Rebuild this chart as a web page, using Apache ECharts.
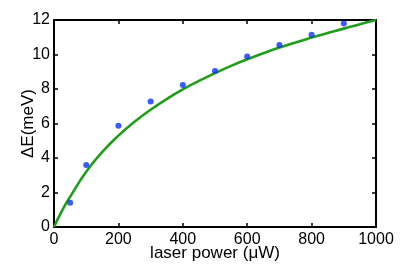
<!DOCTYPE html>
<html>
<head>
<meta charset="utf-8">
<script src="https://cdn.jsdelivr.net/npm/echarts@6/dist/echarts.min.js"></script>
<style>
html,body{margin:0;padding:0;background:#fff;}
#c{width:415px;height:265px;}
</style>
</head>
<body>
<div id="c"></div>
<script>
// measured data points
var powerX = [50, 100, 200, 300, 400, 500, 600, 700, 800, 900];
var deltaE = [1.40, 3.60, 5.87, 7.28, 8.23, 9.05, 9.88, 10.55, 11.14, 11.80];
// fit curve
var fitX = [0, 25, 50, 100, 150, 200, 250, 300, 350, 400, 450, 500, 550, 600, 650, 700, 750, 800, 850, 900, 950, 1000];
var fitY = [0, 0.95, 1.75, 3.2, 4.35, 5.3, 6.1, 6.8, 7.42, 7.98, 8.47, 8.92, 9.34, 9.72, 10.07, 10.4, 10.7, 10.98, 11.25, 11.5, 11.76, 12.0];
var xTicks = [0, 200, 400, 600, 800, 1000];
var yTicks = [0, 2, 4, 6, 8, 10, 12];

var pts = powerX.map(function (x, i) { return [x, deltaE[i]]; });
var fit = fitX.map(function (x, i) { return [x, fitY[i]]; });

var font = 'Liberation Sans, Arial, Helvetica, sans-serif';
var axisLine = { show: true, onZero: false, lineStyle: { color: '#000', width: 2 } };
var tick = { show: true, inside: true, length: 4, lineStyle: { color: '#000', width: 1.5 } };

var chart = echarts.init(document.getElementById('c'), null, { renderer: 'canvas' });
chart.setOption({
  animation: false,
  backgroundColor: '#fff',
  grid: { left: 54, right: 39, top: 20, bottom: 38, containLabel: false, outerBoundsMode: 'none' },
  xAxis: [{
    type: 'value', min: xTicks[0], max: xTicks[xTicks.length - 1], interval: 200,
    position: 'bottom',
    name: 'laser power (\u03bcW)', nameLocation: 'middle', nameGap: 18, nameMoveOverlap: false,
    nameTextStyle: { color: '#000', fontSize: 17, fontFamily: font },
    axisLine: axisLine, axisTick: tick,
    axisLabel: { color: '#000', fontSize: 16, fontFamily: font, margin: 5,
      formatter: function (v) { return String(v); } },
    splitLine: { show: false }
  }, {
    type: 'value', min: xTicks[0], max: xTicks[xTicks.length - 1], interval: 200,
    position: 'top',
    axisLine: axisLine, axisTick: tick,
    axisLabel: { show: false }, splitLine: { show: false }
  }],
  yAxis: [{
    type: 'value', min: yTicks[0], max: yTicks[yTicks.length - 1], interval: 2,
    position: 'left',
    name: '\u0394E(meV)', nameLocation: 'middle', nameGap: 17, nameRotate: 90, nameMoveOverlap: false,
    nameTextStyle: { color: '#000', fontSize: 17, fontFamily: font },
    axisLine: axisLine, axisTick: tick,
    axisLabel: { color: '#000', fontSize: 16, fontFamily: font, margin: 4 },
    splitLine: { show: false }
  }, {
    type: 'value', min: yTicks[0], max: yTicks[yTicks.length - 1], interval: 2,
    position: 'right',
    axisLine: axisLine, axisTick: tick,
    axisLabel: { show: false }, splitLine: { show: false }
  }],
  series: [{
    type: 'line', data: fit, smooth: 0.5, showSymbol: false,
    lineStyle: { color: '#1f9e1a', width: 2.6 },
    z: 2
  }, {
    type: 'scatter', data: pts, symbol: 'circle', symbolSize: 6,
    itemStyle: { color: '#0a32ff' },
    z: 3
  }]
});
</script>
</body>
</html>
